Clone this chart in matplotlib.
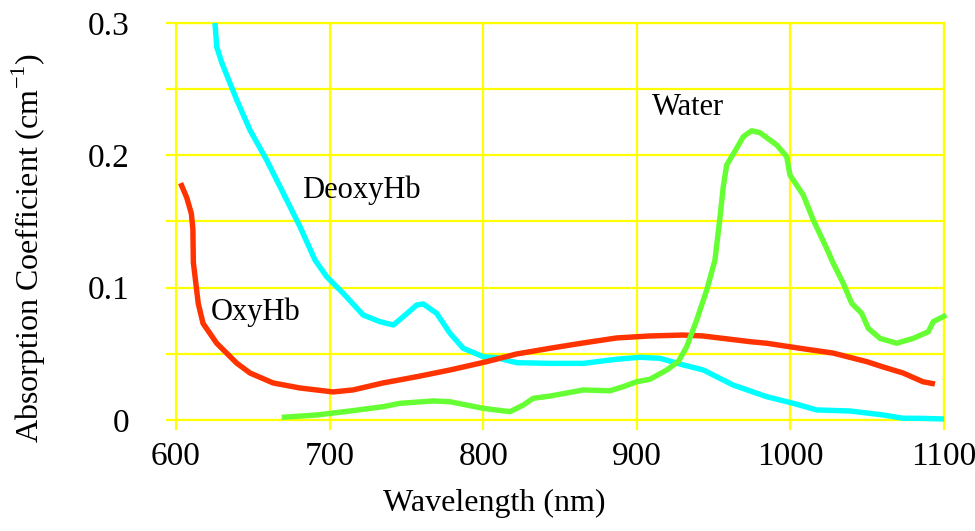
import matplotlib
matplotlib.use("Agg")
import matplotlib.pyplot as plt
import numpy as np

# Absorption spectra (wavelength nm, coefficient cm^-1)
oxy_nm = [603, 607, 610, 611, 611.3, 614.5, 617.6, 626.5, 639.5, 648.2, 663.2, 680.7,
          702.2, 715.2, 734.8, 756.7, 778.4, 802.3, 821.8, 843.5, 865, 886.9,
          908.5, 930.1, 943.1, 973.7, 984.6, 1006.2, 1027.7, 1049.7, 1060.3,
          1073.4, 1086.3, 1094.1]
oxy_val = [0.179, 0.168, 0.156, 0.144, 0.119, 0.088, 0.073, 0.058, 0.043, 0.0355, 0.028,
           0.0242, 0.0212, 0.0227, 0.028, 0.0327, 0.0378, 0.0441, 0.0499, 0.0542,
           0.0582, 0.062, 0.0635, 0.0642, 0.0635, 0.0592, 0.058, 0.0542, 0.0506,
           0.0441, 0.0401, 0.0355, 0.0289, 0.0272]

deoxy_nm = [625.4, 626.5, 629.8, 639.5, 648.2, 659, 669.9, 680.7, 690.5, 698.1,
            708.9, 721.9, 732.8, 741.5, 748, 756.7, 761, 769.7, 778.4, 787,
            800.1, 808.8, 821.8, 843.5, 865.2, 886.9, 902.1, 915.1, 930.3, 943.3,
            962.8, 984.6, 1001.9, 1017.1, 1038.8, 1060.5, 1073.5, 1082.2, 1100]
deoxy_val = [0.300, 0.282, 0.270, 0.242, 0.219, 0.1965, 0.1713, 0.1461, 0.1209,
             0.1083, 0.0957, 0.0793, 0.0743, 0.0718, 0.0781, 0.0869, 0.0877,
             0.0806, 0.0655, 0.0542, 0.0478, 0.0471, 0.0433, 0.0428, 0.0428,
             0.0459, 0.0474, 0.0466, 0.0416, 0.0378, 0.0264, 0.0176, 0.0126,
             0.0076, 0.0068, 0.0038, 0.0013, 0.0013, 0.0008]

water_nm = [668.8, 691.6, 713.3, 735, 745.8, 767.5, 778.4, 800.1, 817.4, 826.1,
            832.6, 843.5, 865.2, 882.6, 891.2, 899.9, 908.6, 919.5, 927, 932.5,
            939, 945.5, 950.9, 954.2, 956.3, 958.5, 965, 969.3, 974.8, 980.2,
            991.1, 997.6, 999.7, 1008.4, 1014.9, 1023.6, 1027.9, 1034.4, 1039.9,
            1046.4, 1050.7, 1058.3, 1069.2, 1080, 1089.8, 1093, 1101.5]
water_val = [0.002, 0.0038, 0.0068, 0.0101, 0.0126, 0.0144, 0.0138, 0.0088,
             0.0063, 0.0113, 0.0164, 0.0181, 0.0227, 0.0221, 0.0252, 0.0289,
             0.0308, 0.0378, 0.0441, 0.0554, 0.0756, 0.0982, 0.1209, 0.1536,
             0.1763, 0.1927, 0.2053, 0.2141, 0.2186, 0.2171, 0.2078, 0.199,
             0.1851, 0.170, 0.1511, 0.1297, 0.1184, 0.1033, 0.0882, 0.0806,
             0.0693, 0.0617, 0.058, 0.0617, 0.0667, 0.0743, 0.0793]

x_ticks = [600, 700, 800, 900, 1000, 1100]
y_ticks = [0, 0.1, 0.2, 0.3]
y_tick_labels = ["0", "0.1", "0.2", "0.3"]

plt.rcParams["font.family"] = ["Liberation Serif", "DejaVu Serif"]
plt.rcParams["mathtext.fontset"] = "custom"
plt.rcParams["mathtext.rm"] = "Liberation Serif"

yellow = "#FFFF00"

fig = plt.figure(figsize=(9.75, 5.31), dpi=100)
ax = fig.add_axes([176 / 975, 111 / 531, 768 / 975, 397 / 531])

style = dict(lw=3.9, clip_on=False, solid_capstyle="butt",
             solid_joinstyle="round", zorder=3)
ax.plot(deoxy_nm, deoxy_val, color="#00FFFF", **style)
ax.plot(oxy_nm, oxy_val, color="#FF3300", **style)
ax.plot(water_nm, water_val, color="#66FF33", **style)

ax.set_xlim(600, 1100)
ax.set_ylim(0, 0.3)
ax.set_xticks(x_ticks)
ax.set_xticklabels([str(v) for v in x_ticks])
ax.set_yticks(y_ticks)
ax.set_yticklabels(y_tick_labels)
ax.set_yticks(np.arange(0.05, 0.3, 0.1), minor=True)

ax.grid(True, which="both", color=yellow, lw=1.6, zorder=1)
ax.set_axisbelow(True)
for s in ax.spines.values():
    s.set_color(yellow)
    s.set_linewidth(1.6)

ax.tick_params(axis="both", which="both", color=yellow, width=1.6,
               length=7.5, direction="out")
ax.tick_params(axis="x", labelsize=24, pad=8)
ax.tick_params(axis="y", labelsize=24, pad=26)

ax.text(681.8, 0.1678, "DeoxyHb", fontsize=22, va="baseline", ha="left")
ax.text(909.9, 0.2305, "Water", fontsize=22, va="baseline", ha="left")
ax.text(622.8, 0.0756, "OxyHb", fontsize=22, va="baseline", ha="left")

fig.text(494 / 975, 1 - 511 / 531, "Wavelength (nm)", fontsize=23,
         ha="center", va="baseline")
fig.text(29 / 975, 1 - 248 / 531,
         r"Absorption Coefficient (cm$^{\mathregular{-1}}$)", fontsize=23,
         rotation=90, ha="center", va="center")

fig.savefig("out.png", dpi=100)
